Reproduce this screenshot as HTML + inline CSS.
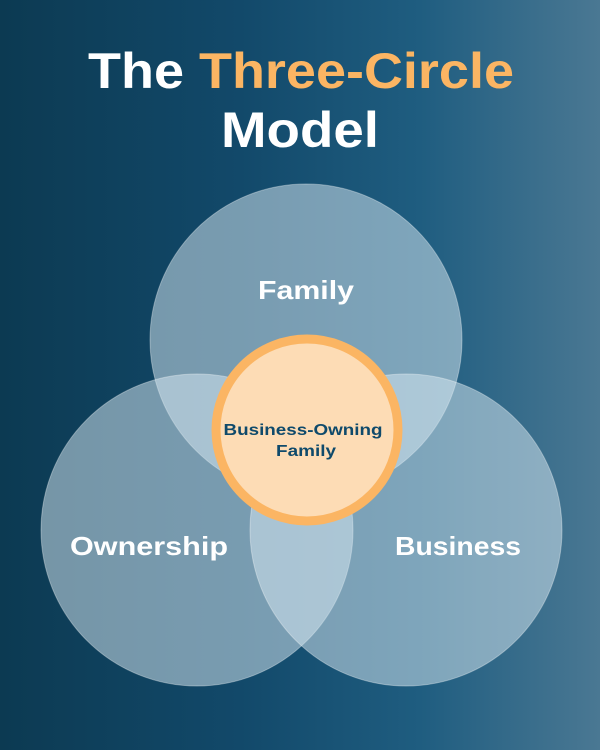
<!DOCTYPE html>
<html><head><style>
html,body{margin:0;padding:0}
body{width:600px;height:750px;overflow:hidden;background:linear-gradient(90deg,#0c3a52 0%,#12496a 40%,#1f5d80 70%,#4a7893 100%);font-family:"Liberation Sans",sans-serif}
</style></head><body>
<svg width="600" height="750" viewBox="0 0 600 750" xmlns="http://www.w3.org/2000/svg" style="position:absolute;left:0;top:0">
<text x="301" y="88" text-anchor="middle" font-family="Liberation Sans, sans-serif" font-weight="bold" font-size="50" fill="#ffffff" textLength="426" lengthAdjust="spacingAndGlyphs">The <tspan fill="#fbb563">Three-Circle</tspan></text>
<text x="300" y="147" text-anchor="middle" font-family="Liberation Sans, sans-serif" font-weight="bold" font-size="50" fill="#ffffff" textLength="158" lengthAdjust="spacingAndGlyphs">Model</text>
<g fill="rgba(215,232,242,0.52)" stroke="rgba(255,255,255,0.35)" stroke-width="1">
<circle cx="306" cy="340" r="156"/>
<circle cx="197" cy="530" r="156"/>
<circle cx="406" cy="530" r="156"/>
</g>
<circle cx="307" cy="430" r="91" fill="#fddcb5" stroke="#fbb563" stroke-width="9"/>
<text x="306" y="299" text-anchor="middle" font-family="Liberation Sans, sans-serif" font-weight="bold" font-size="26" fill="#ffffff" textLength="96" lengthAdjust="spacingAndGlyphs">Family</text>
<text x="149" y="555" text-anchor="middle" font-family="Liberation Sans, sans-serif" font-weight="bold" font-size="26" fill="#ffffff" textLength="158" lengthAdjust="spacingAndGlyphs">Ownership</text>
<text x="458" y="555" text-anchor="middle" font-family="Liberation Sans, sans-serif" font-weight="bold" font-size="26" fill="#ffffff" textLength="126" lengthAdjust="spacingAndGlyphs">Business</text>
<text x="303" y="435" text-anchor="middle" font-family="Liberation Sans, sans-serif" font-weight="bold" font-size="16" fill="#0f4a6b" textLength="159" lengthAdjust="spacingAndGlyphs">Business-Owning</text>
<text x="306" y="456" text-anchor="middle" font-family="Liberation Sans, sans-serif" font-weight="bold" font-size="16" fill="#0f4a6b" textLength="60" lengthAdjust="spacingAndGlyphs">Family</text>
</svg>
</body></html>
